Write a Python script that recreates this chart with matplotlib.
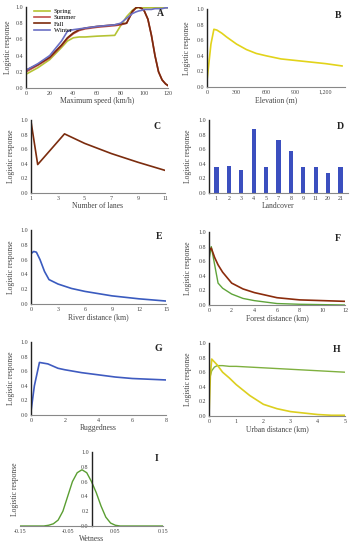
import matplotlib
matplotlib.use("Agg")
import matplotlib.pyplot as plt

plt.rcParams["font.family"] = ["Liberation Serif", "DejaVu Serif"]

W, H = 351, 550

# ─── data ────────────────────────────────────────────────
# A: maximum speed
SPEED_X = [0, 10, 20, 30, 35, 40, 45, 50, 60, 75, 80, 85, 90, 93, 95, 98, 100, 103, 106, 109, 112, 115, 118, 120]
SPRING = [0.17, 0.25, 0.35, 0.50, 0.58, 0.62, 0.63, 0.63, 0.64, 0.65, 0.77, 0.88, 0.96, 0.99, 0.99, 0.99, 0.99, 0.99, 0.99, 0.99, 0.99, 0.99, 0.99, 0.99]
SUMMER = [0.20, 0.28, 0.37, 0.52, 0.61, 0.67, 0.71, 0.73, 0.75, 0.77, 0.78, 0.80, 0.94, 0.99, 1.00, 0.98, 0.95, 0.85, 0.65, 0.40, 0.20, 0.10, 0.05, 0.03]
FALL = [0.22, 0.29, 0.38, 0.53, 0.62, 0.68, 0.72, 0.74, 0.76, 0.78, 0.79, 0.80, 0.95, 0.99, 1.00, 0.98, 0.95, 0.85, 0.65, 0.40, 0.20, 0.10, 0.05, 0.03]
WINTER = [0.22, 0.30, 0.40, 0.58, 0.70, 0.72, 0.73, 0.74, 0.76, 0.78, 0.80, 0.86, 0.92, 0.94, 0.95, 0.96, 0.97, 0.97, 0.97, 0.98, 0.98, 0.98, 0.99, 0.99]

# B: elevation
ELEV_X = [0, 40, 70, 100, 150, 200, 300, 400, 500, 600, 750, 900, 1050, 1200, 1370]
ELEV_Y = [0.08, 0.55, 0.74, 0.73, 0.69, 0.64, 0.55, 0.48, 0.43, 0.40, 0.36, 0.34, 0.32, 0.30, 0.27]

# C: number of lanes
LANES_X = [1, 1.5, 3.5, 5, 7, 9, 11]
LANES_Y = [0.98, 0.39, 0.81, 0.68, 0.54, 0.42, 0.31]

# D: landcover
LC_CATS = ["1", "2", "3", "4", "5", "7", "8", "9", "11", "20", "21"]
LC_VALS = [0.35, 0.37, 0.32, 0.87, 0.36, 0.72, 0.57, 0.36, 0.36, 0.27, 0.35]

# E: river distance
RIVER_X = [0, 0.3, 0.6, 1, 1.5, 2, 3, 4.5, 6, 9, 12, 15]
RIVER_Y = [0.68, 0.71, 0.70, 0.60, 0.44, 0.33, 0.27, 0.21, 0.17, 0.11, 0.07, 0.04]

# F: forest distance
FOREST_X = [0, 0.2, 0.5, 0.8, 1.2, 2, 3, 4, 6, 8, 10, 12]
FOREST_G = [0.62, 0.80, 0.55, 0.30, 0.23, 0.15, 0.09, 0.06, 0.02, 0.01, 0.005, 0.0]
FOREST_B = [0.74, 0.78, 0.65, 0.55, 0.45, 0.30, 0.22, 0.17, 0.10, 0.07, 0.06, 0.05]

# G: ruggedness
RUG_X = [0, 0.2, 0.5, 1, 1.6, 2, 3, 4, 5, 6, 7, 8]
RUG_Y = [0.05, 0.40, 0.72, 0.70, 0.64, 0.62, 0.58, 0.55, 0.52, 0.50, 0.49, 0.48]

# H: urban distance
URB_X = [0, 0.05, 0.1, 0.2, 0.3, 0.5, 0.75, 1, 1.5, 2, 2.5, 3, 3.5, 4, 4.5, 5]
URB_Y = [0.0, 0.55, 0.78, 0.74, 0.70, 0.60, 0.52, 0.43, 0.28, 0.16, 0.10, 0.06, 0.04, 0.02, 0.01, 0.01]
URB_G = [0.45, 0.55, 0.62, 0.67, 0.69, 0.69, 0.68, 0.68, 0.67, 0.66, 0.65, 0.64, 0.63, 0.62, 0.61, 0.60]

# I: wetness
WET_X = [-0.15, -0.10, -0.09, -0.08, -0.07, -0.06, -0.05, -0.04, -0.03, -0.02, -0.01, 0.0, 0.01, 0.02, 0.03, 0.04, 0.05, 0.06, 0.15]
WET_Y = [0.0, 0.0, 0.01, 0.03, 0.08, 0.20, 0.40, 0.60, 0.72, 0.76, 0.72, 0.60, 0.45, 0.27, 0.12, 0.04, 0.01, 0.0, 0.0]

# ─── figure ─────────────────────────────────────────────
fig = plt.figure(figsize=(W / 100, H / 100), dpi=100)
TICK_FS = 4.3
LAB_FS = 5.5


def px_axes(l, t, r, b):
    return fig.add_axes([l / W, 1 - b / H, (r - l) / W, (b - t) / H])


def style(ax, letter, xlabel, lab_x_px, l_px, r_px, ylab=True):
    for s in ["top", "right"]:
        ax.spines[s].set_visible(False)
    ax.spines["left"].set_color("#222")
    ax.spines["left"].set_linewidth(1.0)
    ax.spines["bottom"].set_color("#888")
    ax.spines["bottom"].set_linewidth(0.8)
    ax.tick_params(length=0, pad=2, labelsize=TICK_FS, colors="#444")
    ax.set_ylim(0, 1.0)
    ax.set_yticks([0, 0.2, 0.4, 0.6, 0.8, 1.0])
    ax.set_yticklabels(["0.0", "0.2", "0.4", "0.6", "0.8", "1.0"])
    ax.set_xlabel(xlabel, fontsize=LAB_FS, color="#444", labelpad=1)
    if ylab:
        ax.set_ylabel("Logistic response", fontsize=LAB_FS, color="#444",
                      va="center")
        ax.yaxis.set_label_coords((lab_x_px - l_px) / (r_px - l_px), 0.5)
    ax.text(0.97, 0.97, letter, transform=ax.transAxes, ha="right", va="top",
            fontsize=7, fontweight="bold", color="#222")


# A
ax = px_axes(26, 7, 168, 88)
ax.plot(SPEED_X, SPRING, color="#b5c334", lw=1.2, label="Spring")
ax.plot(SPEED_X, SUMMER, color="#c0504d", lw=1.2, label="Summer")
ax.plot(SPEED_X, FALL, color="#7b2a0c", lw=1.2, label="Fall")
ax.plot(SPEED_X, WINTER, color="#6b6fc4", lw=1.2, label="Winter")
ax.set_xlim(0, 120)
ax.set_xticks(range(0, 121, 20))
style(ax, "A", "Maximum speed (km/h)", 8, 26, 168)
ax.legend(loc="upper left", bbox_to_anchor=(0.02, 1.04), frameon=False,
          fontsize=4.8, handlelength=2.5, labelspacing=0.1, borderpad=0.2,
          handletextpad=0.5)

# B
ax = px_axes(207, 9, 345, 87)
ax.plot(ELEV_X, ELEV_Y, color="#e2d31a", lw=1.2)
ax.set_xlim(0, 1400)
ax.set_xticks([0, 300, 600, 900, 1200])
ax.set_xticklabels(["0", "300", "600", "900", "1,200"])
style(ax, "B", "Elevation (m)", 187, 207, 345)

# C
ax = px_axes(31, 120, 165, 193)
ax.plot(LANES_X, LANES_Y, color="#7b2c0e", lw=1.2)
ax.set_xlim(1, 11)
ax.set_xticks([1, 3, 5, 7, 9, 11])
style(ax, "C", "Number of lanes", 11, 31, 165)

# D
ax = px_axes(209, 120, 348, 193)
ax.bar(range(len(LC_CATS)), LC_VALS, width=0.35, color="#3b4fbf")
ax.set_xlim(-0.6, len(LC_CATS) - 0.4)
ax.set_xticks(range(len(LC_CATS)))
ax.set_xticklabels(LC_CATS)
style(ax, "D", "Landcover", 188, 209, 348)

# E
ax = px_axes(31, 230, 166, 304)
ax.plot(RIVER_X, RIVER_Y, color="#3a5bbf", lw=1.2)
ax.set_xlim(0, 15)
ax.set_xticks(range(0, 16, 3))
style(ax, "E", "River distance (km)", 11, 31, 166)

# F
ax = px_axes(209, 232, 345, 305)
ax.plot(FOREST_X, FOREST_G, color="#5fa43a", lw=1.0)
ax.plot(FOREST_X, FOREST_B, color="#8b2c0c", lw=1.2)
ax.set_xlim(0, 12)
ax.set_xticks(range(0, 13, 2))
style(ax, "F", "Forest distance (km)", 188, 209, 345)

# G
ax = px_axes(31, 342, 166, 415)
ax.plot(RUG_X, RUG_Y, color="#3f5bc0", lw=1.2)
ax.set_xlim(0, 8)
ax.set_xticks(range(0, 9, 2))
style(ax, "G", "Ruggedness", 11, 31, 166)

# H
ax = px_axes(209, 343, 345, 416)
ax.plot(URB_X, URB_G, color="#7fb03f", lw=1.0)
ax.plot(URB_X, URB_Y, color="#dccf1f", lw=1.2)
ax.set_xlim(0, 5)
ax.set_xticks(range(0, 6))
style(ax, "H", "Urban distance (km)", 188, 209, 345)

# I
ax = px_axes(20, 452, 163, 526)
ax.plot(WET_X, WET_Y, color="#5a9e32", lw=1.0)
ax.set_xlim(-0.15, 0.15)
ax.set_xticks([-0.15, -0.05, 0.05, 0.15])
ax.set_xticklabels(["-0.15", "-0.05", "0.05", "0.15"])
style(ax, "I", "Wetness", 15, 20, 163)
ax.spines["left"].set_position(("data", 0))

fig.savefig("out.png", dpi=100)
